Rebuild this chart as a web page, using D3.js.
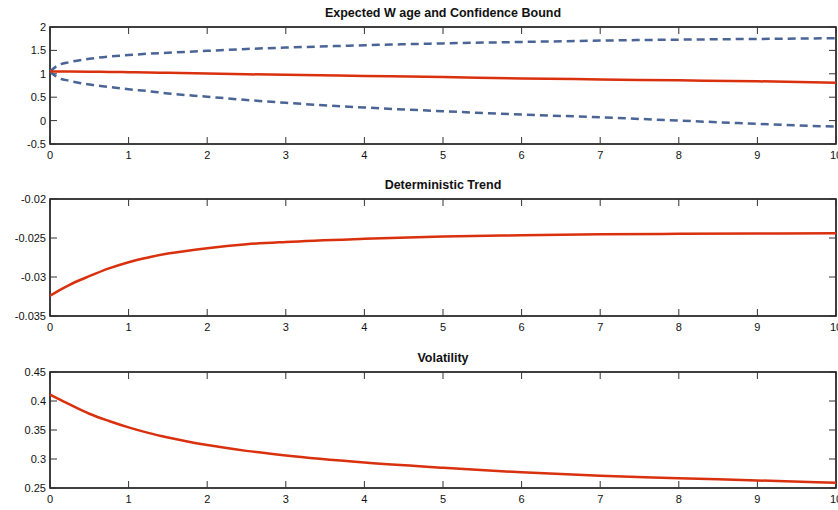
<!DOCTYPE html>
<html>
<head>
<meta charset="utf-8">
<script src="https://cdn.jsdelivr.net/npm/d3@7"></script>
<style>
  body { margin: 0; background: #fff; }
  svg text { font-family: "Liberation Sans", Arial, sans-serif; }
</style>
</head>
<body>
<div id="chart"></div>
<script>
// horizon (years)
const xs = [0, 0.1, 0.25, 0.5, 0.75, 1, 1.25, 1.5, 2, 2.5, 3, 4, 5, 6, 7, 8, 9, 10];

// expected wage and bounds
const wageMean  = [1.05, 1.05, 1.049, 1.046, 1.04, 1.035, 1.03, 1.02, 1.005, 0.99, 0.98, 0.955, 0.93, 0.9, 0.88, 0.86, 0.84, 0.81];
const wageUpper = [1.05, 1.18, 1.25, 1.32, 1.37, 1.40, 1.43, 1.45, 1.49, 1.53, 1.56, 1.61, 1.65, 1.68, 1.71, 1.73, 1.745, 1.76];
const wageLower = [1.05, 0.92, 0.85, 0.77, 0.72, 0.67, 0.63, 0.58, 0.51, 0.44, 0.38, 0.28, 0.2, 0.13, 0.07, 0.0, -0.07, -0.13];

// deterministic trend
const trend = [-0.0324, -0.0318, -0.0310, -0.0299, -0.0289, -0.0281, -0.0275, -0.0270, -0.0263, -0.0258, -0.0255,
               -0.0251, -0.0248, -0.02465, -0.02453, -0.02447, -0.02443, -0.0244];

// volatility
const vol = [0.411, 0.404, 0.394, 0.378, 0.3655, 0.3545, 0.345, 0.337, 0.324, 0.314, 0.306, 0.294, 0.285, 0.277, 0.271, 0.267, 0.263, 0.259];

const xTicks = [0, 1, 2, 3, 4, 5, 6, 7, 8, 9, 10];

const panels = [
  { title: "Expected W age and Confidence Bound", top: 27, bottom: 144, domain: [-0.5, 2],
    ticks: [-0.5, 0, 0.5, 1, 1.5, 2], fmt: d => String(d),
    series: [ { v: wageUpper, dash: true }, { v: wageLower, dash: true }, { v: wageMean } ] },
  { title: "Deterministic Trend", top: 199, bottom: 316, domain: [-0.035, -0.02],
    ticks: [-0.035, -0.03, -0.025, -0.02], fmt: d => String(+d.toFixed(3)),
    series: [ { v: trend } ] },
  { title: "Volatility", top: 372, bottom: 488, domain: [0.25, 0.45],
    ticks: [0.25, 0.3, 0.35, 0.4, 0.45], fmt: d => String(+d.toFixed(2)),
    series: [ { v: vol } ] }
];

const W = 838, H = 510;
const left = 50, right = 836;
const red = "#d9300e", blue = "#4a6496";

const svg = d3.select("#chart").append("svg").attr("width", W).attr("height", H);
const x = d3.scaleLinear().domain([0, 10]).range([left, right]);

panels.forEach(p => {
  const y = d3.scaleLinear().domain(p.domain).range([p.bottom, p.top]);
  const g = svg.append("g");

  // box
  g.append("rect")
    .attr("x", left).attr("y", p.top)
    .attr("width", right - left).attr("height", p.bottom - p.top)
    .attr("fill", "none").attr("stroke", "#000").attr("stroke-width", 1.5);

  // tick marks (inside, all four sides)
  const tl = 7;
  xTicks.forEach(t => {
    g.append("line").attr("x1", x(t)).attr("x2", x(t)).attr("y1", p.bottom).attr("y2", p.bottom - tl)
      .attr("stroke", "#333");
    g.append("line").attr("x1", x(t)).attr("x2", x(t)).attr("y1", p.top).attr("y2", p.top + tl)
      .attr("stroke", "#333");
    g.append("text").attr("x", x(t)).attr("y", p.bottom + 15)
      .attr("text-anchor", "middle").attr("font-size", 11).attr("fill", "#111").text(t);
  });
  p.ticks.forEach(t => {
    g.append("line").attr("x1", left).attr("x2", left + tl).attr("y1", y(t)).attr("y2", y(t))
      .attr("stroke", "#333");
    g.append("line").attr("x1", right).attr("x2", right - tl).attr("y1", y(t)).attr("y2", y(t))
      .attr("stroke", "#333");
    g.append("text").attr("x", left - 4).attr("y", y(t) + 4)
      .attr("text-anchor", "end").attr("font-size", 11).attr("fill", "#111").text(p.fmt(t));
  });

  // title
  g.append("text").attr("x", (left + right) / 2).attr("y", p.top - 10)
    .attr("text-anchor", "middle").attr("font-size", 12.5).attr("font-weight", "bold")
    .attr("fill", "#111").text(p.title);

  const line = d3.line().curve(d3.curveMonotoneX)
    .x((d, i) => x(xs[i])).y(d => y(d));

  p.series.forEach(s => {
    g.append("path").datum(s.v)
      .attr("d", line)
      .attr("fill", "none")
      .attr("stroke", s.dash ? blue : red)
      .attr("stroke-width", 2.5)
      .attr("stroke-dasharray", s.dash ? "8,5" : null);
  });
});
</script>
</body>
</html>
